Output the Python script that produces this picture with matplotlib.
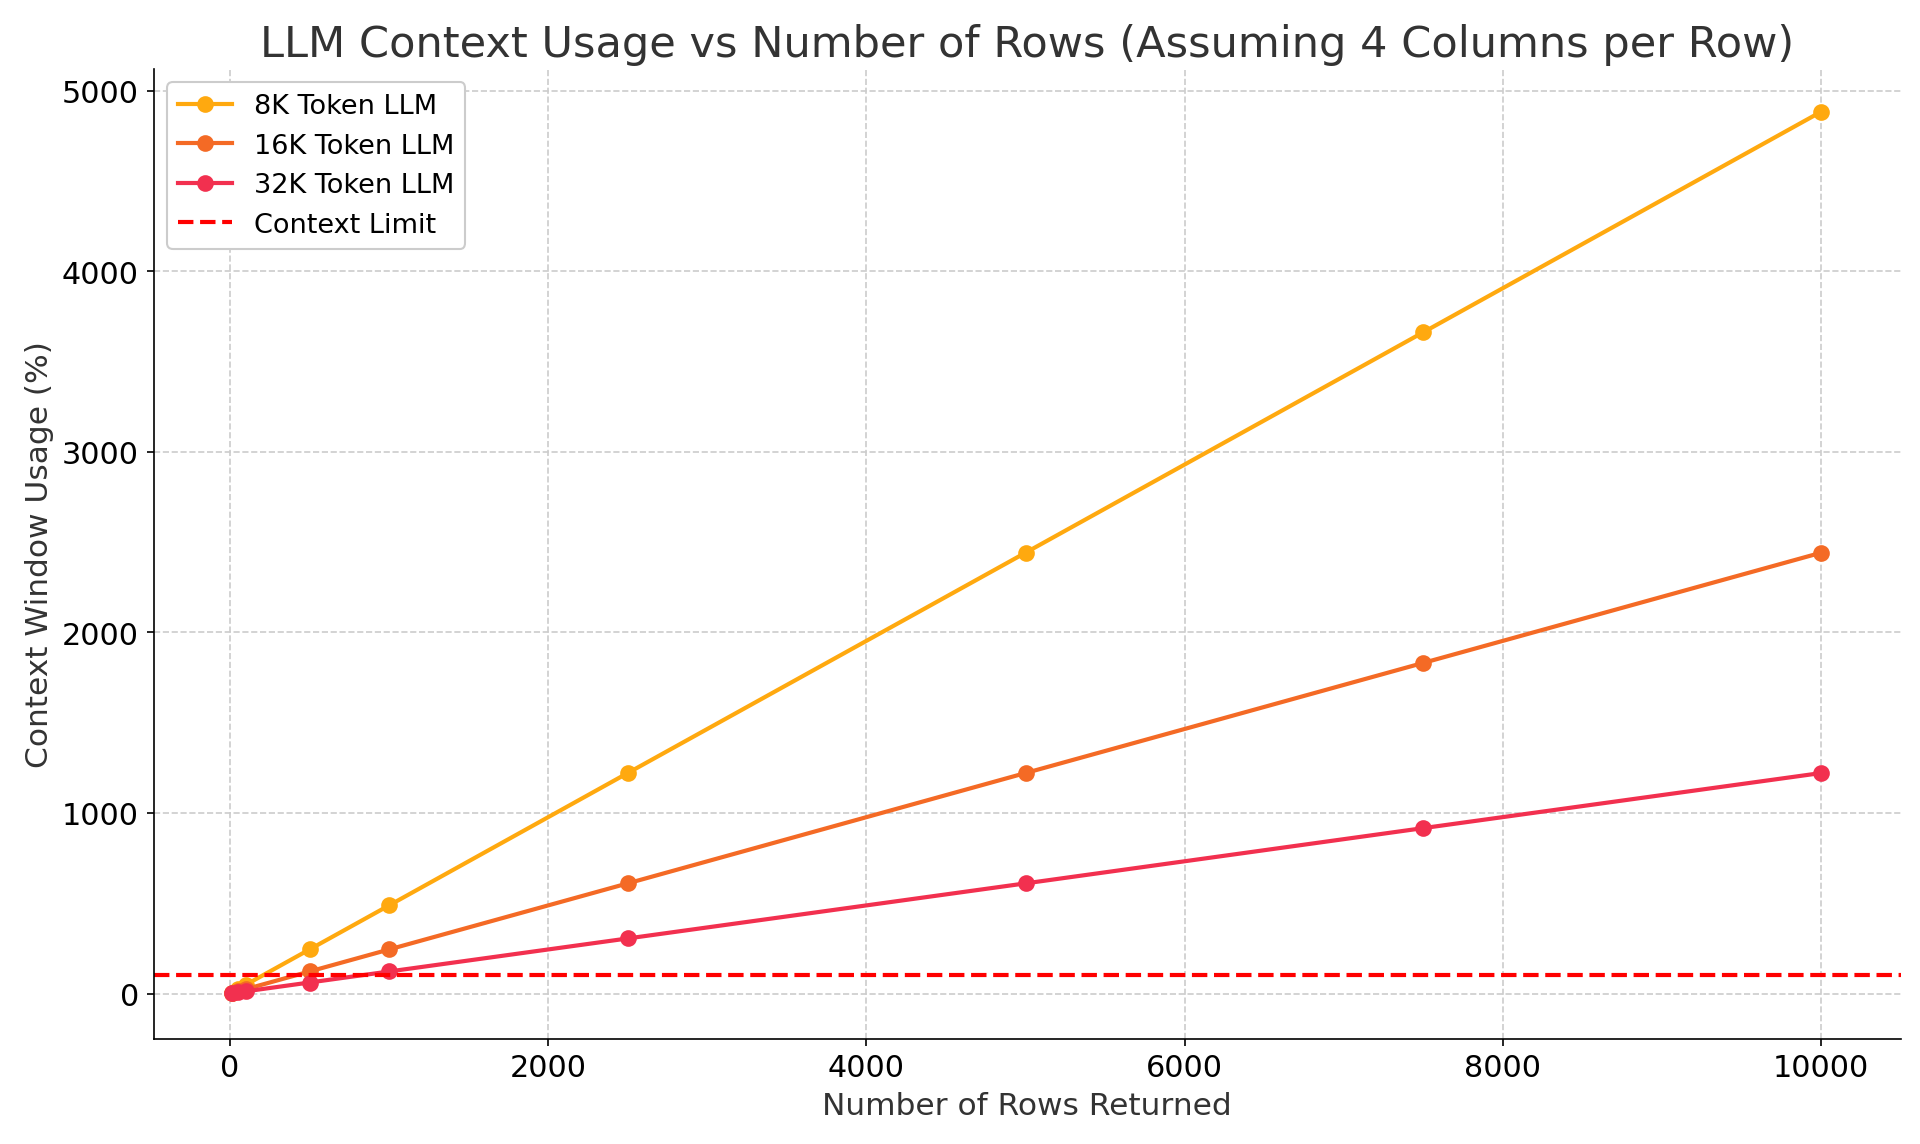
import matplotlib
matplotlib.use("Agg")
import matplotlib.pyplot as plt

rows = [10, 50, 100, 500, 1000, 2500, 5000, 7500, 10000]
usage_8k = [4.9, 24.4, 48.8, 244, 488, 1221, 2441, 3662, 4883]
usage_16k = [2.4, 12.2, 24.4, 122, 244, 610, 1221, 1831, 2441]
usage_32k = [1.2, 6.1, 12.2, 61, 122, 305, 610, 916, 1221]
limit = 100

plt.rcParams['font.family'] = ['DejaVu Sans']
fig = plt.figure(figsize=(12.8, 7.633), dpi=150)
ax = fig.add_axes([0.08, 0.092, 0.91, 0.847])
ax.plot(rows, usage_8k, marker='o', color='#FFA90F', lw=2, ms=7, label='8K Token LLM')
ax.plot(rows, usage_16k, marker='o', color='#F46A25', lw=2, ms=7, label='16K Token LLM')
ax.plot(rows, usage_32k, marker='o', color='#F2304F', lw=2, ms=7, label='32K Token LLM')
ax.axhline(limit, color='red', ls='--', lw=2, label='Context Limit')
ax.set_title('LLM Context Usage vs Number of Rows (Assuming 4 Columns per Row)', fontsize=20.7, color='#333333')
ax.set_xlabel('Number of Rows Returned', fontsize=15, color='#333333')
ax.set_ylabel('Context Window Usage (%)', fontsize=15, color='#333333')
ax.tick_params(labelsize=14.5)
ax.grid(True, ls='--', color='#cccccc', lw=0.8)
for s in ['top', 'right']:
    ax.spines[s].set_visible(False)
ax.set_xlim(-480, 10500)
ax.set_ylim(-250, 5120)
ax.legend(loc='upper left', fontsize=13, framealpha=1, edgecolor='#cccccc')
fig.savefig('out.png')
